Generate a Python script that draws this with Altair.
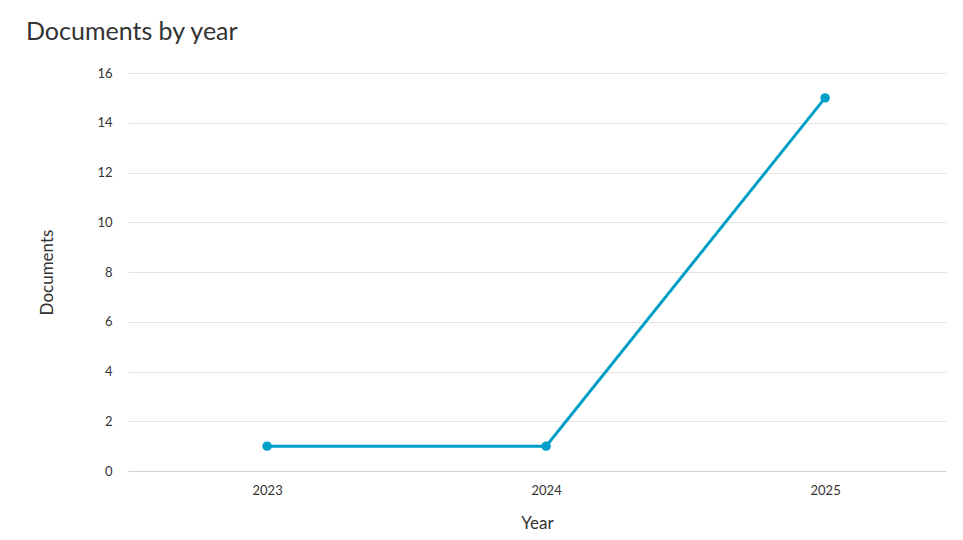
import altair as alt
import pandas as pd

years = ["2023", "2024", "2025"]
documents = [1, 1, 15]

df = pd.DataFrame({"Year": years, "Documents": documents})

font = "Lato"
color = "#009fc8"

base = alt.Chart(df).encode(
    x=alt.X("Year:O", title="Year",
            scale=alt.Scale(type="point", padding=0.466, align=0.535),
            axis=alt.Axis(labelAngle=0, ticks=False, grid=False, domainColor="#cfd0dd",
                          labelPadding=13, titlePadding=18, labelFontSize=13,
                          titleFontSize=17, labelColor="#333", titleColor="#333",
                          labelFont=font, titleFont=font, titleFontWeight="normal")),
    y=alt.Y("Documents:Q", title="Documents",
            scale=alt.Scale(domain=[0, 16]),
            axis=alt.Axis(values=[0, 2, 4, 6, 8, 10, 12, 14, 16], ticks=False, domain=False,
                          gridColor="#e3e3e3", labelPadding=16, titlePadding=40,
                          labelFontSize=13, titleFontSize=17, labelColor="#333",
                          titleColor="#333", labelFont=font, titleFont=font,
                          titleFontWeight="normal")),
)

line = base.mark_line(color=color, strokeWidth=3)
points = base.mark_point(filled=True, color=color, size=90, opacity=1)

chart = (line + points).properties(
    width=818, height=398,
    padding={"left": 120, "top": 65, "right": 9, "bottom": 65},
    autosize=alt.AutoSizeParams(type="none"),
    title=alt.TitleParams("Documents by year", anchor="start", frame="group", dx=-102,
                          offset=22, fontSize=25, font=font, fontWeight="normal",
                          color="#333"),
).configure_view(stroke=None)

chart.save("out.html", embed_options={"renderer": "svg", "actions": False})
